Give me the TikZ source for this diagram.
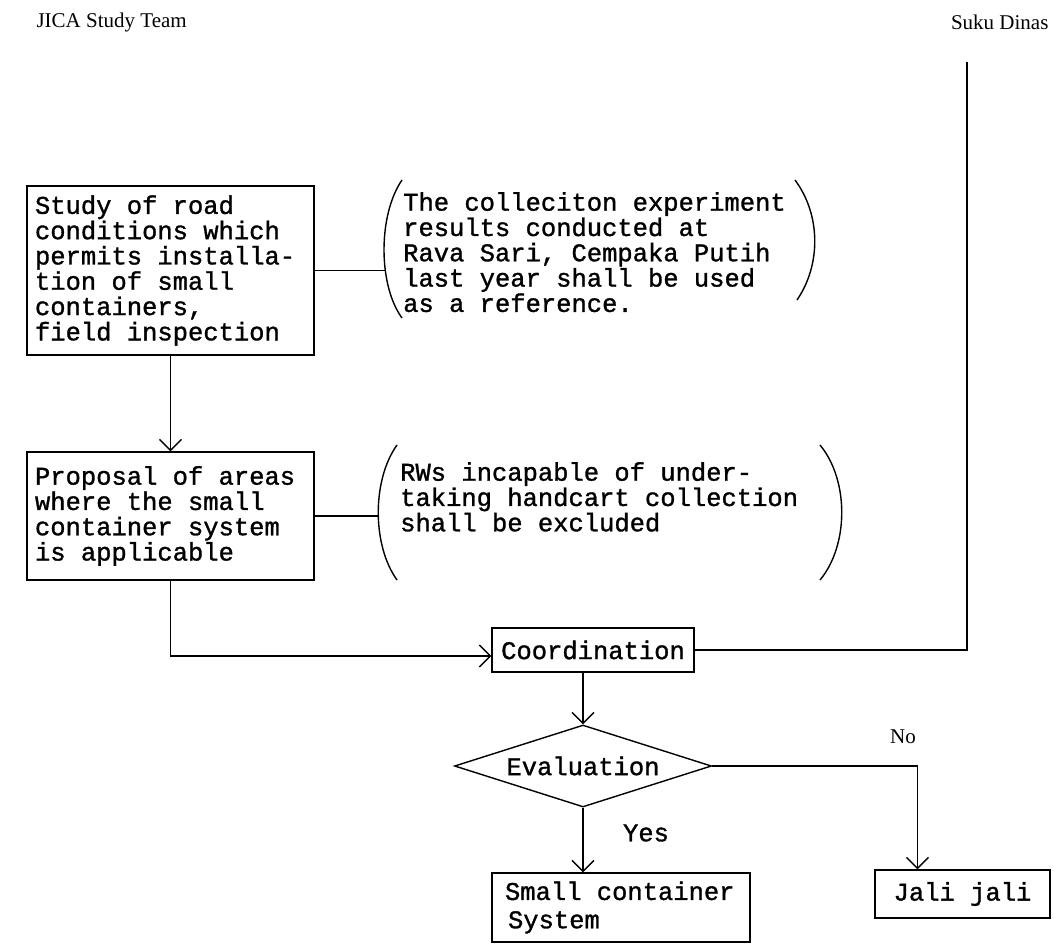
\documentclass[tikz,border=0pt]{standalone}
\usepackage{fontspec}
\setmainfont{Liberation Mono}[WordSpace={1,0,0},FakeBold=1.2]
\newfontfamily\hdr{Liberation Serif}
\usetikzlibrary{shapes.geometric,arrows.meta}
\begin{document}
\begin{tikzpicture}[x=1pt,y=-1pt,
  tw/.style={font=\fontsize{25.5}{25.3}\selectfont},
  hd/.style={font=\hdr\fontsize{21}{23}\selectfont},
  ln/.style={line width=1.4pt},
  arr/.style={ln,-{Straight Barb[length=11pt,width=22pt,line width=1.3pt]}},
  box/.style={draw,ln,tw,align=flush left,inner ysep=0pt},
  txt/.style={tw,align=left,inner sep=0pt,anchor=north west}]
\useasboundingbox (0,0) rectangle (1054,945);
% headers
\node[hd,anchor=west] (jica) at (33,22) {JICA Study Team};
\node[hd,anchor=east] (suku) at (1052,22) {Suku Dinas};
\coordinate (sk) at (967,62);
% left boxes
\node[box,minimum width=287pt,minimum height=169pt,text width=271pt,inner xsep=8pt] (b1) at (170.5,270.5)
 {Study of road\\conditions which\\permits installa-\\tion of small\\containers,\\field inspection};
\node[box,minimum width=287pt,minimum height=128pt,text width=271pt,inner xsep=8pt] (b2) at (170.5,516)
 {Proposal of areas\\where the small\\container system\\is applicable};
% bracketed notes
\node[txt] (n1) at (403,192) {The colleciton experiment\\results conducted at\\Rava Sari, Cempaka Putih\\last year shall be used\\as a reference.};
\draw[ln] (402,180) .. controls (378,215) and (378,285) .. (402,318);
\draw[ln] (795,180) .. controls (821,215) and (821,265) .. (797,300);
\coordinate (p1) at (385,270);
\node[txt] (n2) at (400,462) {RWs incapable of under-\\taking handcart collection\\shall be excluded};
\draw[ln] (397,445) .. controls (372,480) and (372,545) .. (397,580);
\draw[ln] (820,445) .. controls (849,480) and (849,545) .. (820,580);
\coordinate (p2) at (378,516);
\draw[ln] (b1.east) -- (b1.east -| p1);
\draw[ln] (b2.east) -- (b2.east -| p2);
% flow
\node[box,minimum width=202pt,minimum height=44pt,inner xsep=6pt] (co) at (593,650) {Coordination};
\node[draw,ln,tw,diamond,aspect=3.1,minimum width=257pt,minimum height=82pt,inner sep=0pt] (ev) at (583,766) {Evaluation};
\node[box,minimum width=258pt,minimum height=69pt,text width=232pt,inner xsep=13pt] (sc) at (621,907.5)
 {Small container\\[3pt]\hspace*{3pt}System};
\node[box,minimum width=175pt,minimum height=48pt] (jj) at (962.5,894) {Jali jali};
\draw[arr] (b1.south) -- (b2.north);
\draw[arr] (b2.south) |- ([yshift=-6pt]co.west);
\draw[ln] (sk) |- (co.east);
\draw[arr] (co.south -| ev.north) -- (ev.north);
\draw[arr] (ev.south) -- (ev.south |- sc.north);
\draw[arr] (ev.east) -| ([xshift=-45pt]jj.north);
\node[tw] (yes) at (646,833) {Yes};
\node[hd] (no) at (903,737) {No};
\end{tikzpicture}
\end{document}
